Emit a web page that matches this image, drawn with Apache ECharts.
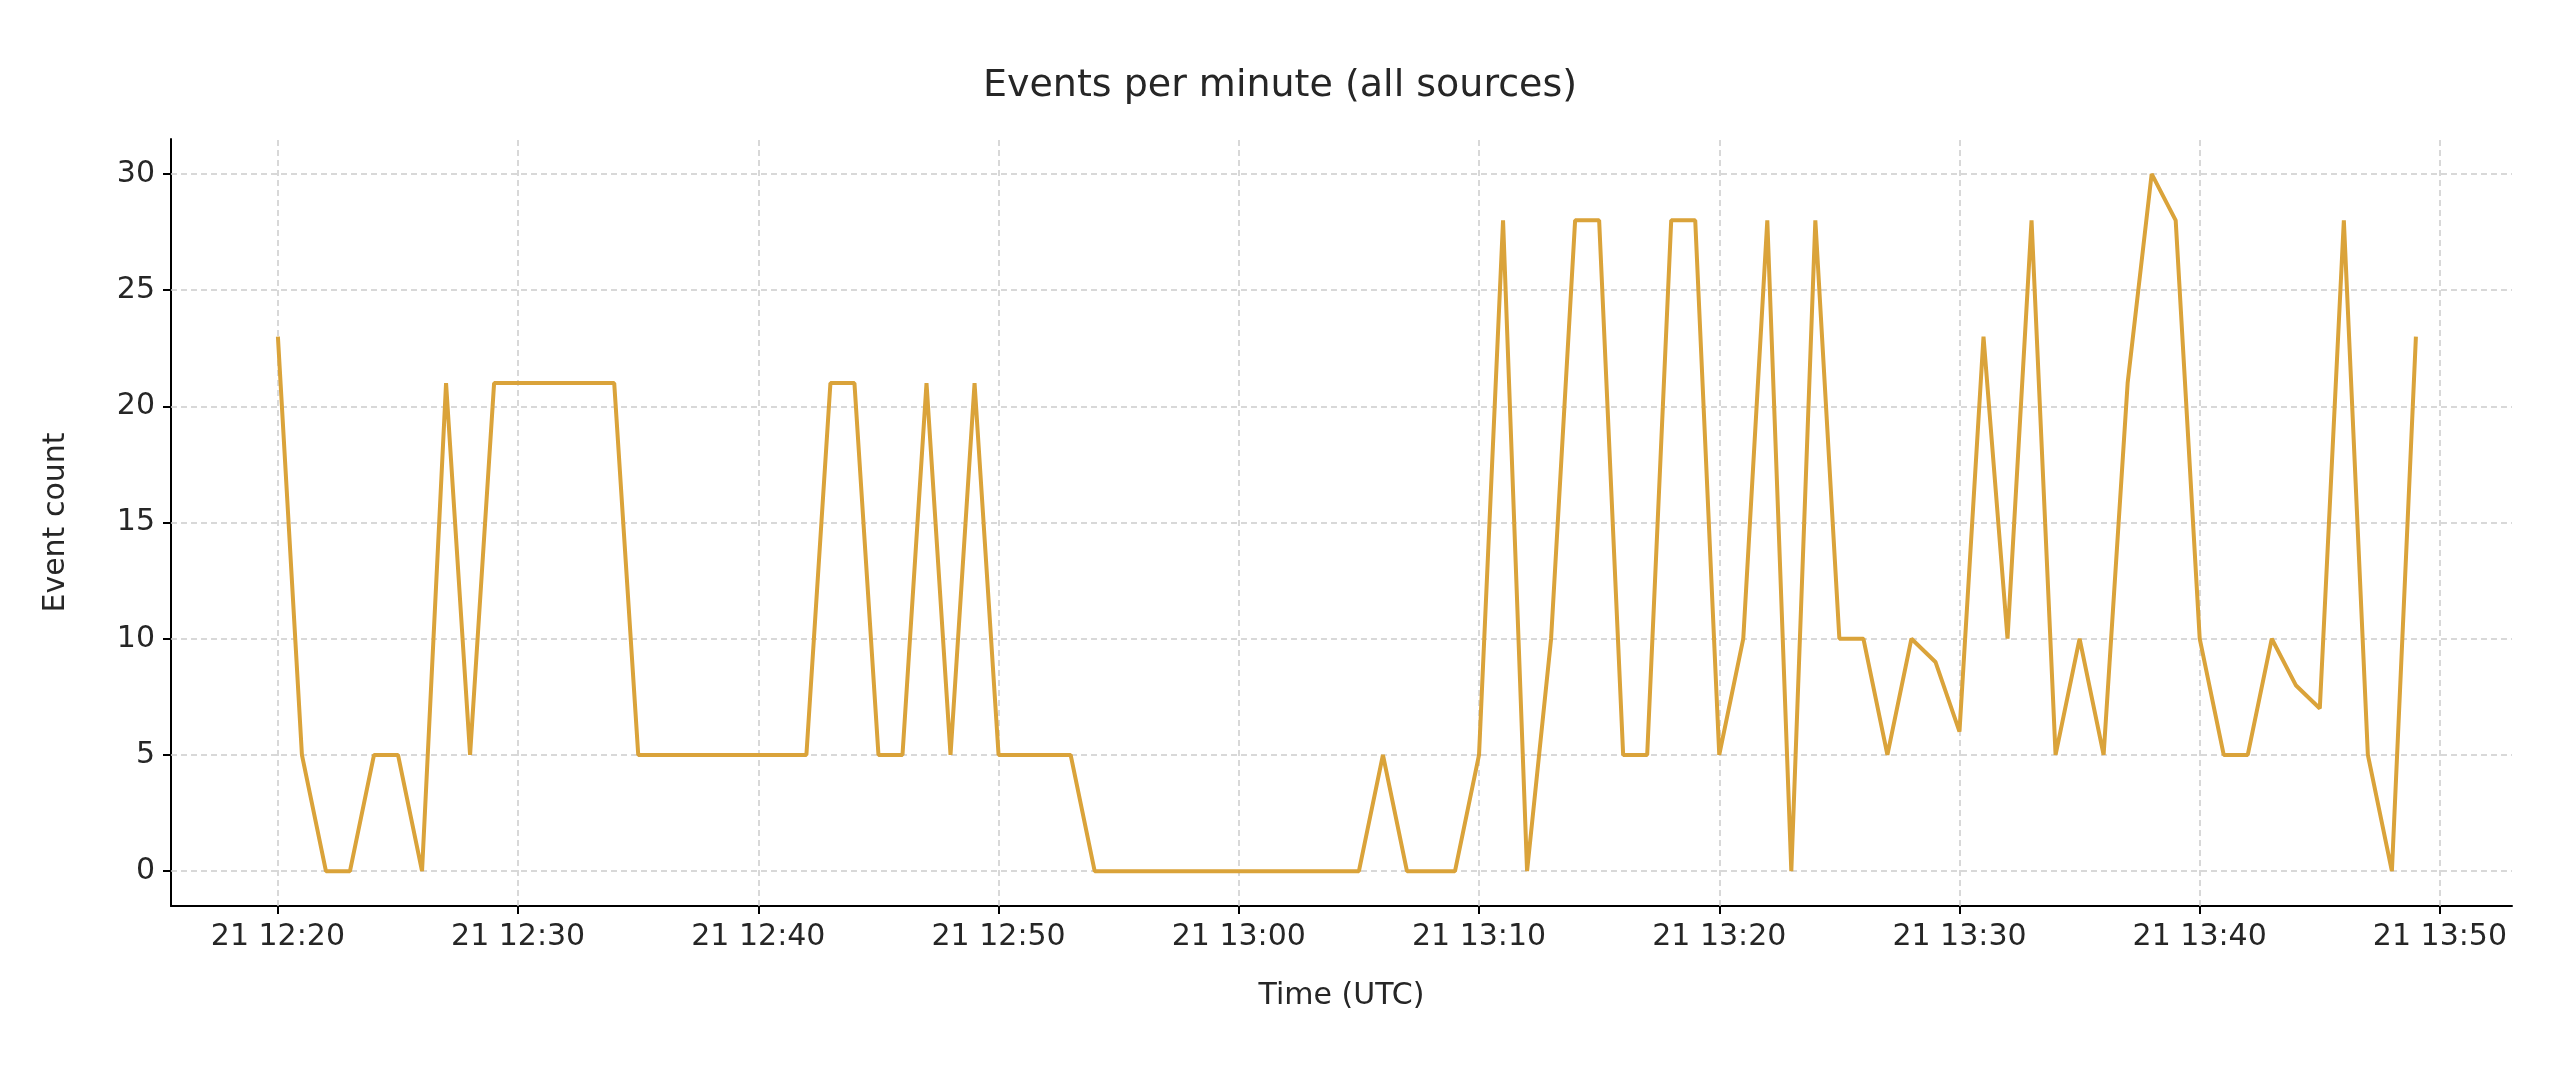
<!DOCTYPE html>
<html>
<head>
<meta charset="utf-8">
<script src="https://cdn.jsdelivr.net/npm/echarts@6/dist/echarts.min.js"></script>
<style>html,body{margin:0;padding:0;background:#fff}#chart{width:2560px;height:1070px}</style>
</head>
<body>
<div id="chart"></div>
<script>
// one value per minute, 12:20 .. 13:49 UTC
let startHour = 12, startMinute = 20;
let eventCounts = [
    23, 5, 0, 0, 5, 5, 0, 21, 5, 21,
    21, 21, 21, 21, 21, 5, 5, 5, 5, 5,
    5, 5, 5, 21, 21, 5, 5, 21, 5, 21,
    5, 5, 5, 5, 0, 0, 0, 0, 0, 0,
    0, 0, 0, 0, 0, 0, 5, 0, 0, 0,
    5, 28, 0, 10, 28, 28, 5, 5, 28, 28,
    5, 10, 28, 0, 28, 10, 10, 5, 10, 9,
    6, 23, 10, 28, 5, 10, 5, 21, 30, 28,
    10, 5, 5, 10, 8, 7, 28, 5, 0, 23
];
let yTicks = [0, 5, 10, 15, 20, 25, 30];
let xTicks = [0, 10, 20, 30, 40, 50, 60, 70, 80, 90]; // minutes after 12:20

let points = eventCounts.map((v, i) => [i, v]);

function timeLabel(m) {
    let total = startHour * 60 + startMinute + Math.round(m);
    let hh = String(Math.floor(total / 60)).padStart(2, "0");
    let mm = String(total % 60).padStart(2, "0");
    return "21 " + hh + ":" + mm;
}

let chart = echarts.init(document.getElementById("chart"));
let font = "DejaVu Sans";
let gridLine = {color: "#cccccc", type: [6, 4], width: 1.5};
chart.setOption({
    animation: false,
    title: {
        text: "Events per minute (all sources)",
        left: "center",
        top: 62,
        textStyle: {fontFamily: font, fontSize: 38, fontWeight: "normal", color: "#262626"}
    },
    grid: {left: 171, right: 48, top: 139, bottom: 164},
    xAxis: {
        type: "value",
        min: -4.45,
        max: 93,
        name: "Time (UTC)",
        nameLocation: "middle",
        nameGap: 75,
        nameTextStyle: {fontFamily: font, fontSize: 30, color: "#262626"},
        axisLine: {onZero: false, lineStyle: {color: "#000", width: 2}},
        axisTick: {show: true, length: 8, customValues: xTicks, lineStyle: {color: "#000", width: 2}},
        axisLabel: {
            fontFamily: font, fontSize: 30, color: "#262626", margin: 16,
            customValues: xTicks,
            formatter: v => timeLabel(v)
        },
        splitLine: {show: false}
    },
    yAxis: {
        type: "value",
        min: -1.5,
        max: 31.5,
        name: "Event count",
        nameLocation: "middle",
        nameGap: 100,
        nameTextStyle: {fontFamily: font, fontSize: 30, color: "#262626"},
        axisLine: {show: true, onZero: false, lineStyle: {color: "#000", width: 2}},
        axisTick: {show: true, length: 8, customValues: yTicks, lineStyle: {color: "#000", width: 2}},
        axisLabel: {fontFamily: font, fontSize: 30, color: "#262626", margin: 16, customValues: yTicks},
        splitLine: {show: false}
    },
    series: [
        {
            type: "line",
            data: points,
            showSymbol: false,
            z: 3,
            lineStyle: {color: "#DAA33A", width: 4},
            itemStyle: {color: "#DAA33A"},
            markLine: {
                silent: true,
                symbol: "none",
                z: 1,
                label: {show: false},
                lineStyle: gridLine,
                data: yTicks.map(v => ({yAxis: v})).concat(xTicks.map(v => ({xAxis: v})))
            }
        }
    ]
});
</script>
</body>
</html>
